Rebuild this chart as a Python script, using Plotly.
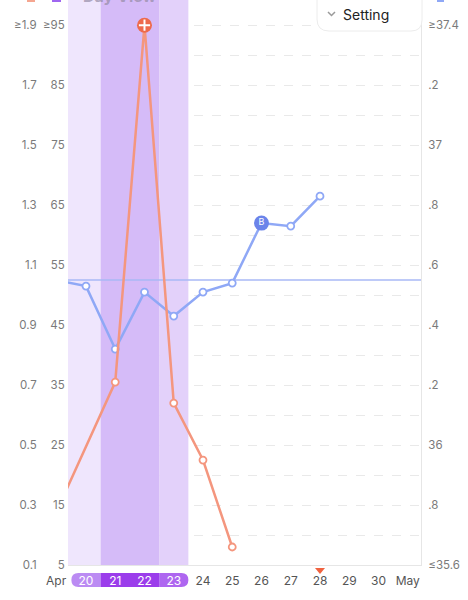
import plotly.graph_objects as go

# ---- data ----
days = [20, 21, 22, 23, 24, 25, 26, 27, 28, 29, 30, 31]
day_labels = ["20", "21", "22", "23", "24", "25", "26", "27", "28", "29", "30", "May"]
month_label = "Apr"

temp_days = [19, 20, 21, 22, 23, 24, 25, 26, 27, 28]
temps = [36.55, 36.53, 36.32, 36.51, 36.43, 36.51, 36.54, 36.74, 36.73, 36.83]
coverline = 36.55
bbt_mark_day = 26

lh_days = [19, 21, 22, 23, 24, 25]
lh_ratio = [0.28, 0.71, 1.9, 0.64, 0.45, 0.16]
lh_peak_day = 22

other_days = []
other_vals = []

period_light = [19, 20]
period_heavy = [21, 22]
period_end = [23]
today = 28

lh_ticks = [0.1, 0.3, 0.5, 0.7, 0.9, 1.1, 1.3, 1.5, 1.7, 1.9]
lh_ticktext = ["0.1", "0.3", "0.5", "0.7", "0.9", "1.1", "1.3", "1.5", "1.7", "≥1.9"]
pct_ticks = [5, 15, 25, 35, 45, 55, 65, 75, 85, 95]
pct_ticktext = ["5", "15", "25", "35", "45", "55", "65", "75", "85", "≥95"]
pct_minor = [10, 20, 30, 40, 50, 60, 70, 80, 90]
temp_ticks = [35.6, 35.8, 36.0, 36.2, 36.4, 36.6, 36.8, 37.0, 37.2, 37.4]
temp_ticktext = ["≤35.6", ".8", "36", ".2", ".4", ".6", ".8", "37", ".2", "≥37.4"]

# ---- layout constants ----
W, H = 468, 600
M_L, M_R, M_T, M_B = 0, 47, 0, 35
PAPER_W = W - M_L - M_R
X0_PX = 68
x_range = [19.385, 31.453]
pct_range = [5, 99.2]
lh_range = [0.1, 0.1 + (pct_range[1] - 5) * 0.02]
temp_range = [35.6, 35.6 + (pct_range[1] - 5) * 0.02]
px_per_day = (PAPER_W - X0_PX) / (x_range[1] - x_range[0])

FONT = "Inter"
BLUE = "#8fa8f6"
ORANGE = "#f4967e"
LABEL = "#7a7a7a"

fig = go.Figure()

fig.add_trace(go.Scatter(x=other_days, y=other_vals, yaxis="y", mode="lines",
                         line=dict(color="#9f66f0"), hoverinfo="skip"))

# coverline
fig.add_trace(go.Scatter(x=x_range, y=[coverline, coverline], yaxis="y2", mode="lines",
                         line=dict(color="#a9b8f6", width=1.5), hoverinfo="skip"))

fig.add_trace(go.Scatter(
    x=temp_days, y=temps, yaxis="y2", mode="lines+markers",
    line=dict(color=BLUE, width=2.5),
    marker=dict(symbol="circle", size=7, color="white", line=dict(color=BLUE, width=1.8)),
))
b_idx = temp_days.index(bbt_mark_day)
fig.add_trace(go.Scatter(
    x=[bbt_mark_day], y=[temps[b_idx]], yaxis="y2", mode="markers+text",
    marker=dict(size=15, color="#6b84ea"), text=["B"], textposition="middle center",
    textfont=dict(color="white", size=9, family=FONT),
))

fig.add_trace(go.Scatter(
    x=lh_days, y=lh_ratio, yaxis="y3", mode="lines+markers",
    line=dict(color=ORANGE, width=2.5),
    marker=dict(symbol="circle", size=7, color="white", line=dict(color=ORANGE, width=1.8)),
))
p_idx = lh_days.index(lh_peak_day)
fig.add_trace(go.Scatter(
    x=[lh_peak_day], y=[lh_ratio[p_idx]], yaxis="y3", mode="markers",
    marker=dict(size=15, color="#ee6a4c"),
))
fig.add_trace(go.Scatter(
    x=[lh_peak_day], y=[lh_ratio[p_idx]], yaxis="y3", mode="markers",
    marker=dict(symbol="cross-thin", size=8, line=dict(color="white", width=2)),
))

shapes = []
# period shading, one block per phase
for group, col in [(period_light, "#efe6fd"), (period_heavy, "#d5bbf8"), (period_end, "#e3d1fa")]:
    shapes.append(dict(type="rect", xref="x", yref="y", x0=min(group) - 0.5, x1=max(group) + 0.5,
                       y0=pct_range[0], y1=pct_range[1], fillcolor=col,
                       line=dict(width=0), layer="between"))

# pill behind the period dates
rd = 7 / px_per_day
pill_groups = [(period_light[-1:], "#bb8bf3"), (period_heavy, "#9b3deb"), (period_end, "#ae66f0")]
for i, (group, col) in enumerate(pill_groups):
    a, b = min(group) - 0.5, max(group) + 0.5
    if i == 0:
        path = (f"M{b},-8 L{a + rd},-8 Q{a},-8 {a},-15 Q{a},-22 {a + rd},-22 L{b},-22 Z")
    elif i == len(pill_groups) - 1:
        path = (f"M{a},-8 L{b - rd},-8 Q{b},-8 {b},-15 Q{b},-22 {b - rd},-22 L{a},-22 Z")
    else:
        path = f"M{a},-8 L{b},-8 L{b},-22 L{a},-22 Z"
    shapes.append(dict(type="path", xref="x", yref="paper", ysizemode="pixel", yanchor=0,
                       path=path, fillcolor=col, line=dict(width=0), layer="below"))
pill_days = [d for g, _ in pill_groups for d in g]

# today marker
shapes.append(dict(type="path", xref="x", yref="paper", xsizemode="pixel", ysizemode="pixel",
                   xanchor=today, yanchor=0, path="M-5,-3 L5,-3 L0,-9 Z",
                   fillcolor="#f0623f", line=dict(width=0), layer="below"))

# Setting button
shapes.append(dict(type="path", xref="paper", yref="paper", xsizemode="pixel", ysizemode="pixel",
                   xanchor=1, yanchor=1,
                   path="M-104,6 L-104,-19 Q-104,-31 -92,-31 L-10,-31 Q1,-31 1,-20 L1,6 Z",
                   fillcolor="white", line=dict(color="#ececec", width=1), layer="above"))
shapes.append(dict(type="path", xref="paper", yref="paper", xsizemode="pixel", ysizemode="pixel",
                   xanchor=1, yanchor=1, path="M-93,-12 L-89.5,-15.5 L-86,-12",
                   line=dict(color="#9a9a9a", width=1.5), layer="above"))

# clipped legend chips at the top
for xa, x0, x1, col in [(0, 27, 35, "#f5a690"), (0, 52, 61, "#9f66f0"), (1, 16, 23, BLUE)]:
    shapes.append(dict(type="rect", xref="paper", yref="paper", xsizemode="pixel",
                       ysizemode="pixel", xanchor=xa, yanchor=1, x0=x0, x1=x1, y0=-2, y1=8,
                       fillcolor=col, line=dict(width=0), layer="above"))

annotations = [
    dict(text=month_label, xref="paper", yref="paper", x=56 / PAPER_W, y=0, yshift=-15,
         xanchor="center", yanchor="middle", showarrow=False,
         font=dict(family=FONT, size=12, color="#555")),
    dict(text="Setting", xref="paper", yref="paper", x=366 / PAPER_W, y=1, yshift=-14,
         xanchor="center", yanchor="middle", showarrow=False,
         font=dict(family=FONT, size=14, color="#222")),
    dict(text="<b>Day View</b>", xref="paper", yref="paper", x=120 / PAPER_W, y=1, yshift=4,
         xanchor="center", yanchor="middle", showarrow=False,
         font=dict(family=FONT, size=16, color="rgba(150,140,165,0.7)")),
]

tick_text = [f"<span style='color:white'>{t}</span>" if d in pill_days else t
             for d, t in zip(days, day_labels)]

fig.update_layout(
    width=W, height=H,
    margin=dict(l=M_L, r=M_R, t=M_T, b=M_B),
    paper_bgcolor="white", plot_bgcolor="white",
    showlegend=False,
    font=dict(family=FONT, size=12, color=LABEL),
    shapes=shapes, annotations=annotations,
    xaxis=dict(domain=[X0_PX / PAPER_W, 1], range=x_range, tickvals=days, ticktext=tick_text,
               showgrid=False, zeroline=False, showline=True, linecolor="#e6e6e6",
               ticks="outside", ticklen=5, tickcolor="rgba(0,0,0,0)",
               tickfont=dict(size=12, color="#555"), automargin=False),
    yaxis=dict(range=pct_range, tickvals=pct_ticks, ticktext=pct_ticktext,
               anchor="free", position=X0_PX / PAPER_W, side="left",
               showgrid=True, gridcolor="#e9e9e9", griddash="dash", gridwidth=1,
               minor=dict(tickvals=pct_minor, showgrid=True, gridcolor="#e9e9e9", griddash="dash"),
               zeroline=False, showline=False, ticks="outside", ticklen=1,
               tickcolor="rgba(0,0,0,0)", tickfont=dict(size=11.5), automargin=False),
    yaxis2=dict(range=temp_range, tickvals=temp_ticks, ticktext=temp_ticktext,
                overlaying="y", side="right", anchor="x", showgrid=False, zeroline=False,
                showline=True, linecolor="#e6e6e6", ticks="outside", ticklen=4,
                tickcolor="rgba(0,0,0,0)", tickfont=dict(size=11.5), automargin=False),
    yaxis3=dict(range=lh_range, tickvals=lh_ticks, ticktext=lh_ticktext,
                overlaying="y", side="left", anchor="free", position=40 / PAPER_W,
                showgrid=False, zeroline=False, showline=False, ticks="outside", ticklen=1,
                tickcolor="rgba(0,0,0,0)", tickfont=dict(size=11.5), automargin=False),
)

# the page's default body margin would push the chart 8px in
fig.write_html("out.html", config={"displayModeBar": False},
               post_script="document.body.style.margin='0';")
